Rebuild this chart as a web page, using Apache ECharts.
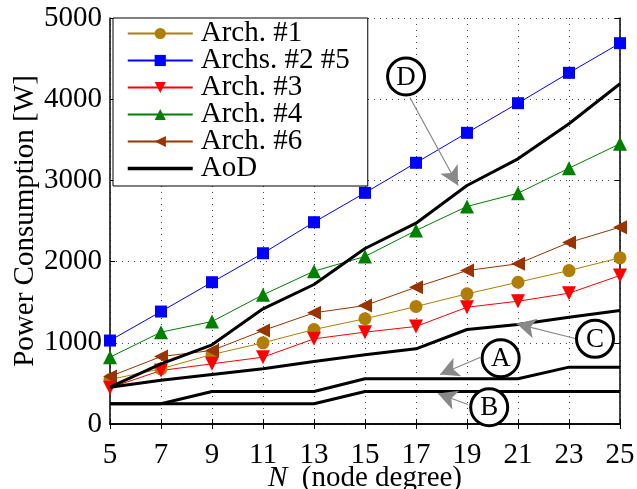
<!DOCTYPE html>
<html>
<head>
<meta charset="utf-8">
<script src="https://cdn.jsdelivr.net/npm/echarts@6/dist/echarts.min.js"></script>
<style>html,body{margin:0;padding:0;background:#fff}#c{width:637px;height:489px}</style>
</head>
<body>
<div id="c"></div>
<script>
const nodeDegree = [5, 7, 9, 11, 13, 15, 17, 19, 21, 23, 25];
const arch1 = [548, 680, 856, 1000, 1164, 1296, 1447, 1603, 1746, 1890, 2047];
const arch25 = [1028, 1385, 1746, 2103, 2485, 2847, 3217, 3586, 3951, 4325, 4690];
const arch3 = [446, 659, 741, 823, 1049, 1131, 1201, 1438, 1512, 1611, 1829];
const arch4 = [823, 1131, 1262, 1591, 1882, 2063, 2383, 2679, 2842, 3150, 3451];
const arch6 = [585, 831, 905, 1151, 1369, 1459, 1685, 1890, 1973, 2235, 2424];
const aodD = [453, 741, 975, 1419, 1718, 2161, 2473, 2937, 3266, 3697, 4190];
const aodC = [453, 540, 610, 680, 770, 852, 926, 1164, 1225, 1315, 1398];
const aodA = [250, 250, 400, 400, 400, 557, 557, 557, 557, 700, 700];
const aodB = [250, 250, 250, 250, 250, 400, 400, 400, 400, 400, 400];
const yTicks = [0, 1000, 2000, 3000, 4000, 5000];
// annotations: [label, circle x, circle y, arrow start x, start y, arrow end x, end y] in data units
const annotations = [
  ['D', 16.61, 4280, 16.76, 4020, 18.65, 2937],
  ['A', 20.32, 810, 19.51, 819, 17.94, 610],
  ['B', 19.87, 207, 19.04, 240, 17.86, 376],
  ['C', 24.02, 1049, 23.24, 1053, 20.95, 1234]
];

const FONT = 'Liberation Serif';
const FS = 29;
const pairs = arr => nodeDegree.map((x, i) => [x, arr[i]]);

function archSeries(name, data, color, symbol, size, rotate) {
  return {
    name, type: 'line', data: pairs(data), color,
    symbol, symbolSize: size, symbolRotate: rotate || 0,
    lineStyle: { width: 1, color }, itemStyle: { color },
    z: 3, animation: false
  };
}
function aodSeries(data, extra) {
  return Object.assign({
    name: 'AoD', type: 'line', data: pairs(data), symbol: 'none', showSymbol: false,
    lineStyle: { width: 3, color: '#000' }, itemStyle: { color: '#000' },
    z: 4, animation: false
  }, extra || {});
}

const markPointData = annotations.map(a => ({
  coord: [a[1], a[2]], value: a[0]
}));
const markLineData = annotations.map(a => ([
  { coord: [a[3], a[4]] }, { coord: [a[5], a[6]] }
]));

const series = [
  archSeries('Arch. #1', arch1, '#b07d05', 'circle', 13),
  archSeries('Archs. #2 #5', arch25, '#0000ff', 'rect', 12),
  archSeries('Arch. #3', arch3, '#ff0000', 'triangle', 14, 180),
  archSeries('Arch. #4', arch4, '#008000', 'triangle', 14),
  archSeries('Arch. #6', arch6, '#993300', 'triangle', 14, 90),
  aodSeries(aodD, {
    markLine: {
      silent: true, symbol: ['none', 'arrow'], symbolSize: [15, 19],
      lineStyle: { color: '#888', width: 1.2, type: 'solid' },
      itemStyle: { color: '#888' },
      label: { show: false }, data: markLineData, animation: false
    },
    markPoint: {
      silent: true, symbol: 'circle', symbolSize: 37,
      itemStyle: { color: '#fff', borderColor: '#000', borderWidth: 3 },
      label: { show: true, formatter: p => p.value, color: '#000', fontFamily: FONT, fontSize: 27, offset: [0, 1] },
      data: markPointData, animation: false, z: 10
    }
  }),
  aodSeries(aodC),
  aodSeries(aodA),
  aodSeries(aodB)
];

const labelStyle = { fontFamily: FONT, fontSize: FS, color: '#000' };

const chart = echarts.init(document.getElementById('c'), null, { renderer: 'canvas' });
chart.setOption({
  backgroundColor: '#fff',
  animation: false,
  textStyle: { fontFamily: FONT, fontSize: FS },
  grid: { left: 110, right: 17, top: 18, bottom: 65, show: false, containLabel: false, outerBoundsMode: 'none' },
  legend: {
    data: ['Arch. #1', 'Archs. #2 #5', 'Arch. #3', 'Arch. #4', 'Arch. #6',
      { name: 'AoD', itemStyle: { opacity: 0 }, lineStyle: { width: 3.5, color: '#000' } }],
    orient: 'vertical', left: 113, top: 18,
    backgroundColor: '#fff', borderColor: '#000', borderWidth: 1,
    padding: [1, 18, 3, 13], itemGap: -2, itemWidth: 65, itemHeight: 14,
    textStyle: { fontFamily: FONT, fontSize: FS, color: '#000', lineHeight: 27, padding: [0, 0, 0, 3] },
    selectedMode: false, z: 20
  },
  xAxis: [{
    type: 'value', min: 5, max: 25, interval: 2,
    name: '{i|N}  (node degree)', nameLocation: 'middle', nameGap: 40, nameMoveOverlap: false,
    nameTextStyle: Object.assign({}, labelStyle, {
      rich: { i: Object.assign({ fontStyle: 'italic' }, labelStyle) } }),
    axisLine: { show: true, lineStyle: { color: '#000', width: 1.5 } },
    axisTick: { show: true, inside: true, length: 5, lineStyle: { color: '#000' } },
    axisLabel: Object.assign({ margin: 17, formatter: v => String(v) }, labelStyle),
    splitLine: { show: true, lineStyle: { color: '#444', type: [1, 5], width: 1 } }
  }, {
    type: 'value', min: 5, max: 25, interval: 2, position: 'top',
    axisLine: { show: true, lineStyle: { color: '#000', width: 1.5 } },
    axisTick: { show: true, inside: true, length: 5, lineStyle: { color: '#000' } },
    axisLabel: { show: false }, splitLine: { show: false }
  }],
  yAxis: [{
    type: 'value', min: yTicks[0], max: yTicks[yTicks.length - 1], interval: 1000,
    name: 'Power Consumption [W]', nameLocation: 'middle', nameGap: 70, nameMoveOverlap: false,
    nameTextStyle: labelStyle,
    axisLine: { show: true, lineStyle: { color: '#000', width: 1.5 } },
    axisTick: { show: true, inside: true, length: 5, lineStyle: { color: '#000' } },
    axisLabel: Object.assign({ margin: 8, formatter: v => String(v) }, labelStyle),
    splitLine: { show: true, lineStyle: { color: '#444', type: [1, 5], width: 1 } }
  }, {
    type: 'value', min: yTicks[0], max: yTicks[yTicks.length - 1], interval: 1000, position: 'right',
    axisLine: { show: true, lineStyle: { color: '#000', width: 1.5 } },
    axisTick: { show: true, inside: true, length: 5, lineStyle: { color: '#000' } },
    axisLabel: { show: false }, splitLine: { show: false }
  }],
  series
});
</script>
</body>
</html>
